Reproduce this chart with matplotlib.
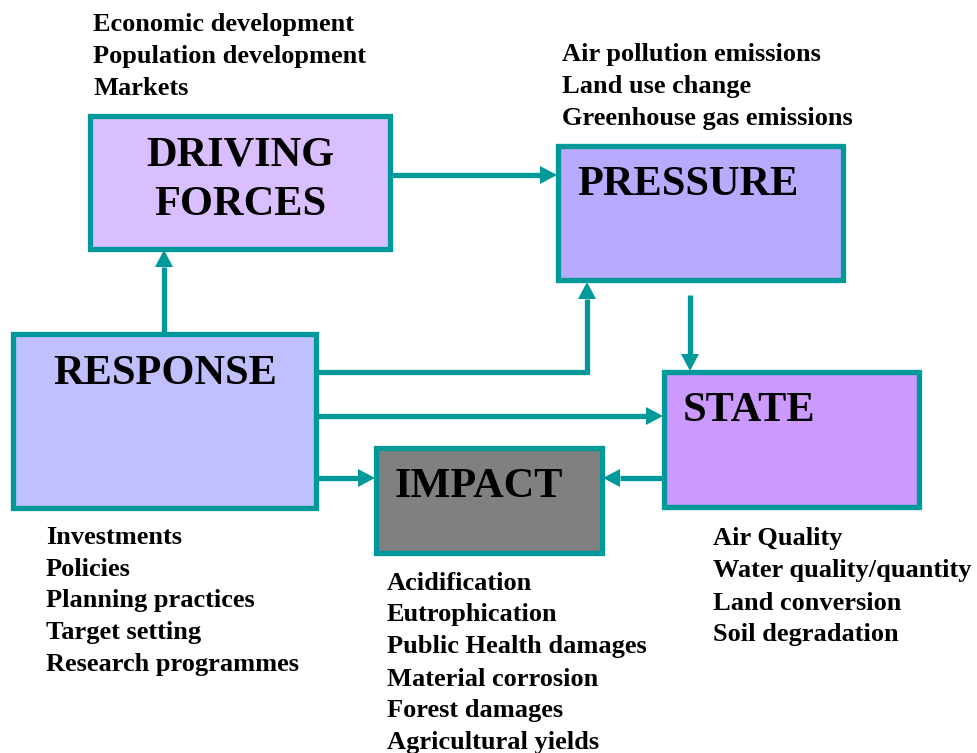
import matplotlib.pyplot as plt
from matplotlib.patches import Rectangle

TEAL = "#009999"
FONT = "Liberation Serif"

# box labels and their text lists
driving_items = ["Economic development", "Population development", "Markets"]
pressure_items = ["Air pollution emissions", "Land use change", "Greenhouse gas emissions"]
response_items = ["Investments", "Policies", "Planning practices", "Target setting",
                  "Research programmes"]
impact_items = ["Acidification", "Eutrophication", "Public Health damages",
                "Material corrosion", "Forest damages", "Agricultural yields"]
state_items = ["Air Quality", "Water quality/quantity", "Land conversion", "Soil degradation"]

# name: (x0, y0, x1, y1, fill) in pixel coords, y downwards
boxes = {
    "driving": (90, 116, 390, 249, "#D9BFFF"),
    "pressure": (558, 146, 843, 280, "#B8AAFF"),
    "response": (13, 334, 316, 508, "#C0C0FF"),
    "impact": (376, 448, 602, 553, "#808080"),
    "state": (664, 372, 919, 507, "#CC99FF"),
}

fig = plt.figure(figsize=(9.77, 7.53), dpi=100)
ax = fig.add_axes([0, 0, 1, 1])
ax.set_xlim(0, 977)
ax.set_ylim(753, 0)
ax.axis("off")

for x0, y0, x1, y1, fc in boxes.values():
    ax.add_patch(Rectangle((x0, y0), x1 - x0, y1 - y0, facecolor=fc,
                           edgecolor=TEAL, lw=3.8, zorder=2))

title_kw = dict(fontfamily=FONT, fontweight="bold", fontsize=30.5, va="center", zorder=3)
ax.text(240, 155, "DRIVING", ha="center", **title_kw)
ax.text(240, 205, "FORCES", ha="center", **title_kw)
ax.text(577, 185, "PRESSURE", ha="left", **title_kw)
ax.text(53, 374, "RESPONSE", ha="left", **title_kw)
ax.text(395, 487, "IMPACT", ha="left", **title_kw)
ax.text(683, 411, "STATE", ha="left", **title_kw)


def item_list(items, x, y0, step=32):
    for i, s in enumerate(items):
        ax.text(x, y0 + i * step, s, fontfamily=FONT, fontweight="bold",
                fontsize=19, ha="left", va="center")


item_list(driving_items, 93, 24)
item_list(pressure_items, 562, 54)
item_list(response_items, 46, 537)
item_list(impact_items, 387, 583)
item_list(state_items, 713, 539)


def arrow(x0, y0, x1, y1, head_len=17, head_w=9):
    # shaft up to the base of the head, then a filled triangle
    dx, dy = x1 - x0, y1 - y0
    n = (dx * dx + dy * dy) ** 0.5
    ux, uy = dx / n, dy / n
    bx, by = x1 - ux * head_len, y1 - uy * head_len
    ax.plot([x0, bx], [y0, by], color=TEAL, lw=3.8, solid_capstyle="butt", zorder=1)
    ax.fill([x1, bx - uy * head_w, bx + uy * head_w],
            [y1, by + ux * head_w, by - ux * head_w], color=TEAL, lw=0, zorder=1)


arrow(390, 175, 557, 175)      # driving -> pressure
arrow(164, 333, 164, 250)      # response -> driving
ax.plot([316, 588.5], [372, 372], color=TEAL, lw=3.8, solid_capstyle="butt", zorder=1)
arrow(587, 374, 587, 282)      # response -> pressure
arrow(690, 295, 690, 371)      # pressure -> state
arrow(316, 416, 663, 416)      # response -> state
arrow(316, 478, 375, 478)      # response -> impact
arrow(664, 478, 603, 478)      # state -> impact

fig.savefig("out.png", dpi=100)
